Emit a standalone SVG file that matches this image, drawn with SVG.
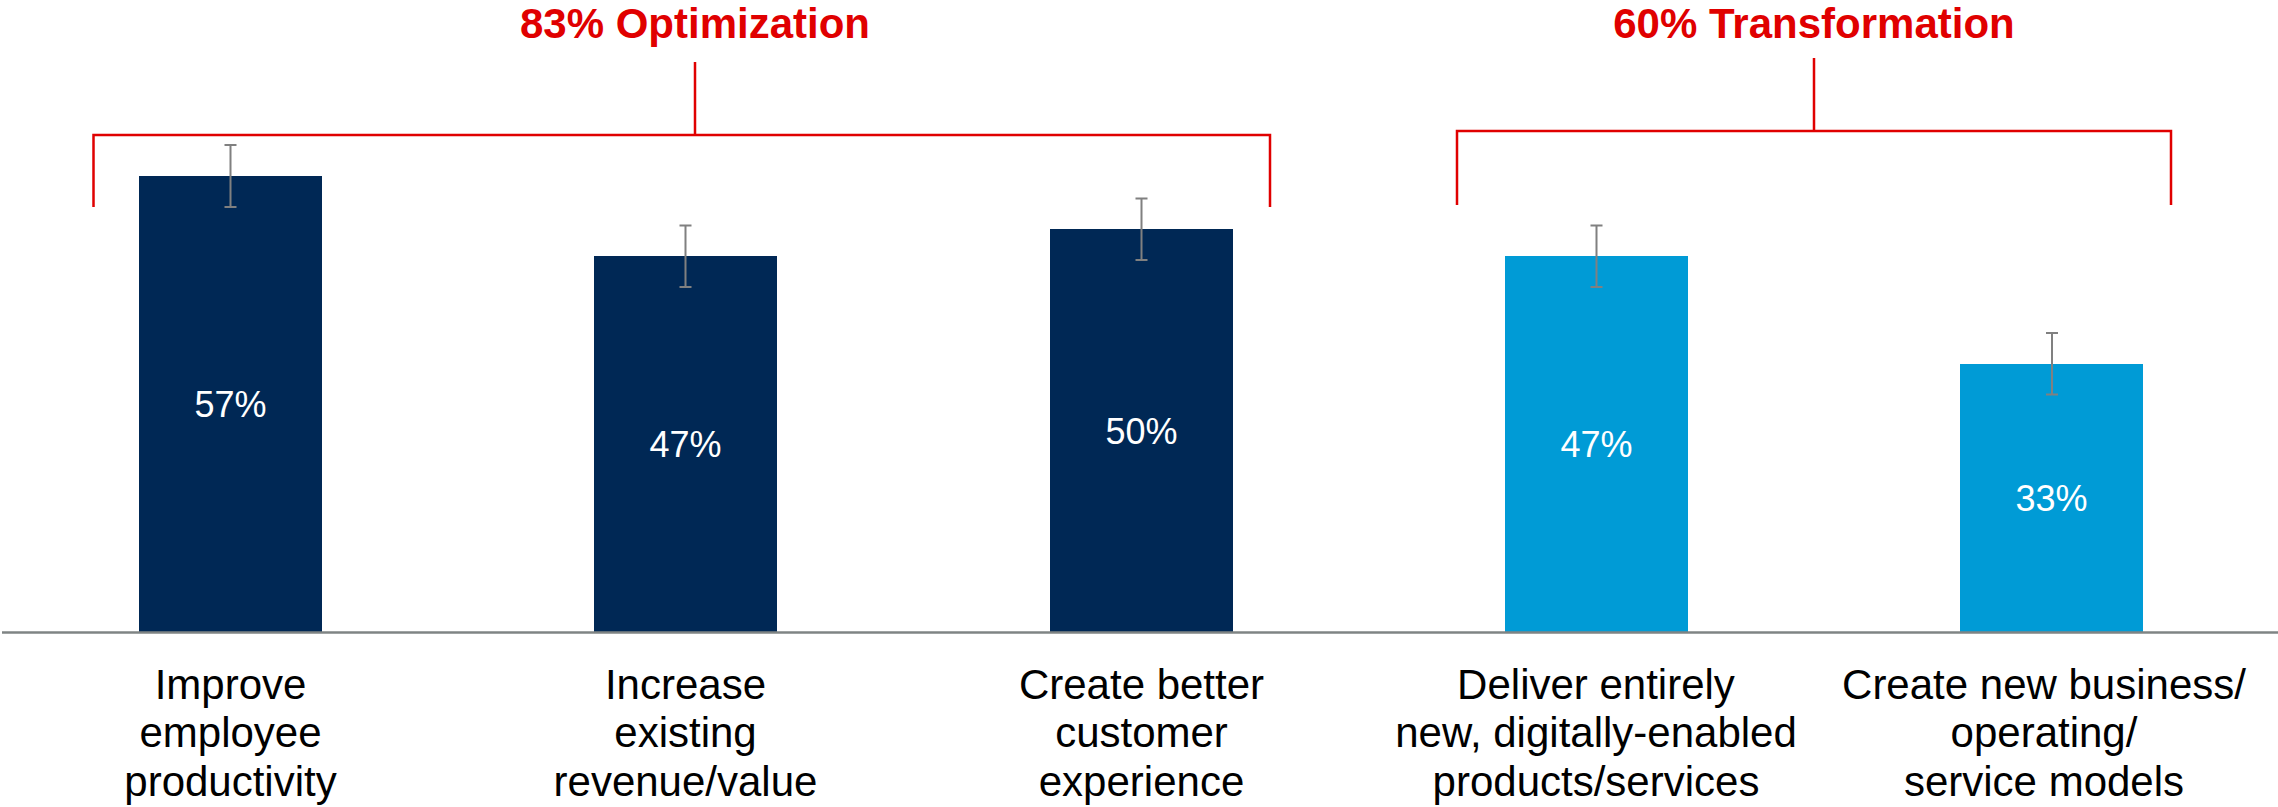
<svg xmlns="http://www.w3.org/2000/svg" width="2278" height="807" viewBox="0 0 2278 807">
<style>
.title{font-family:"Liberation Sans",Arial,sans-serif;font-weight:bold;font-size:42px;fill:#E00000;text-anchor:middle}
.bracket{fill:none;stroke:#E00000;stroke-width:2.5}
.navy{fill:#002855}
.blue{fill:#009BD6}
.err{fill:none;stroke:#808080;stroke-width:2}
.val{font-family:"Liberation Sans",Arial,sans-serif;font-size:36px;fill:#FFFFFF;text-anchor:middle}
.cat{font-family:"Liberation Sans",Arial,sans-serif;font-size:42px;fill:#000000;text-anchor:middle}
.axis{stroke:#7F8484;stroke-width:2.5}
</style>
<rect width="2278" height="807" fill="#FFFFFF"/>
<g id="group-optimization">
  <text class="title" x="695" y="38">83% Optimization</text>
</g>
<g id="group-transformation">
  <text class="title" x="1814" y="38">60% Transformation</text>
</g>
<g id="bar1">
  <rect class="navy" x="139" y="176" width="183" height="456"/>
  <path class="err" d="M230.5,145V207M224.5,145H236.5M224.5,207H236.5"/>
  <text class="val" x="230.5" y="417">57%</text>
  <text class="cat" x="230.5" y="698.5">Improve</text>
  <text class="cat" x="230.5" y="747">employee</text>
  <text class="cat" x="230.5" y="795.5">productivity</text>
</g>
<g id="bar2">
  <rect class="navy" x="594" y="256" width="183" height="376"/>
  <path class="err" d="M685.5,225.5V287M679.5,225.5H691.5M679.5,287H691.5"/>
  <text class="val" x="685.5" y="457">47%</text>
  <text class="cat" x="685.5" y="698.5">Increase</text>
  <text class="cat" x="685.5" y="747">existing</text>
  <text class="cat" x="685.5" y="795.5">revenue/value</text>
</g>
<g id="bar3">
  <rect class="navy" x="1050" y="229" width="183" height="403"/>
  <path class="err" d="M1141.5,198.5V260M1135.5,198.5H1147.5M1135.5,260H1147.5"/>
  <text class="val" x="1141.5" y="444">50%</text>
  <text class="cat" x="1141.5" y="698.5">Create better</text>
  <text class="cat" x="1141.5" y="747">customer</text>
  <text class="cat" x="1141.5" y="795.5">experience</text>
</g>
<g id="bar4">
  <rect class="blue" x="1505" y="256" width="183" height="376"/>
  <path class="err" d="M1596.5,225.5V287M1590.5,225.5H1602.5M1590.5,287H1602.5"/>
  <text class="val" x="1596.5" y="457">47%</text>
  <text class="cat" x="1596" y="698.5">Deliver entirely</text>
  <text class="cat" x="1596" y="747">new, digitally-enabled</text>
  <text class="cat" x="1596" y="795.5">products/services</text>
</g>
<g id="bar5">
  <rect class="blue" x="1960" y="364" width="183" height="268"/>
  <path class="err" d="M2052,333V394.5M2046,333H2058M2046,394.5H2058"/>
  <text class="val" x="2051.5" y="511">33%</text>
  <text class="cat" x="2044" y="698.5">Create new business/</text>
  <text class="cat" x="2044" y="747">operating/</text>
  <text class="cat" x="2044" y="795.5">service models</text>
</g>
<g id="connectors">
  <path class="bracket" d="M93.5,207V135H1270V207M695,62V135"/>
  <path class="bracket" d="M1457,205V131H2171V205M1814,58V131"/>
  <line class="axis" x1="2" y1="632.5" x2="2278" y2="632.5"/>
</g>
</svg>
